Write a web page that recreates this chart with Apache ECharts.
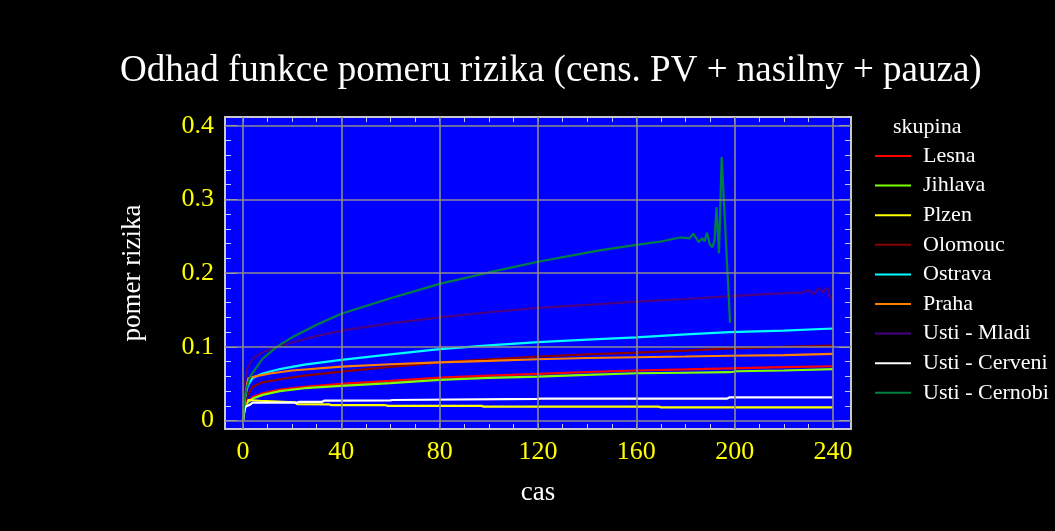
<!DOCTYPE html>
<html>
<head>
<meta charset="utf-8">
<script src="https://cdn.jsdelivr.net/npm/echarts@6/dist/echarts.min.js"></script>
<style>html,body{margin:0;padding:0;background:#000;}#c{width:1055px;height:531px;}</style>
</head>
<body>
<div id="c"></div>
<script>
// ---- data ----
const seriesNames = ['Lesna','Jihlava','Plzen','Olomouc','Ostrava','Praha','Usti - Mladi','Usti - Cerveni','Usti - Cernobi'];
const seriesColors = ['#ff0000','#80ff00','#ffff00','#8b0000','#00ffff','#ff8000','#4b0082','#ffffff','#008040'];

const lesnaT = [0,0.5,1,2,4,8,15,25,40,60,80,100,120,140,160,180,198,220,240];
const lesnaV = [0,0.012,0.02,0.026,0.032,0.037,0.042,0.046,0.0498,0.054,0.0584,0.061,0.0634,0.066,0.068,0.0695,0.071,0.0725,0.0738];

const jihlavaT = [0,0.5,1,2,4,8,15,25,40,60,80,100,120,140,160,180,198,201,220,240];
const jihlavaV = [0,0.011,0.019,0.025,0.030,0.035,0.040,0.044,0.0471,0.051,0.0552,0.058,0.0597,0.062,0.0643,0.065,0.0657,0.067,0.068,0.0700];

const plzenT = [0,0.5,1,2,7,7.5,21,22,35,36,58,59,97,98,169,170,240];
const plzenV = [0,0.015,0.024,0.028,0.027,0.025,0.025,0.0225,0.0222,0.021,0.021,0.020,0.020,0.019,0.019,0.018,0.018];

const olomoucT = [0,0.5,1,2,4,8,17.6,25,40,60,80,100,120,140,160,180,198,220,240];
const olomoucV = [0,0.015,0.025,0.035,0.046,0.052,0.0575,0.061,0.0665,0.073,0.079,0.083,0.087,0.090,0.0923,0.095,0.098,0.100,0.1018];

const ostravaT = [0,0.5,1,2,4,8,15,25,40,60,80,100,120,140,160,180,198,220,240];
const ostravaV = [0,0.02,0.035,0.048,0.058,0.064,0.070,0.076,0.0824,0.090,0.097,0.102,0.1064,0.110,0.113,0.117,0.120,0.122,0.125];

const prahaT = [0,0.5,1,2.2,5,11,20,40,60,80,100,120,140,160,180,198,220,240];
const prahaV = [0,0.02,0.04,0.0575,0.060,0.064,0.068,0.0733,0.0765,0.079,0.081,0.0833,0.085,0.086,0.087,0.088,0.089,0.0905];

const mladiT = [0,0.3,0.7,1.5,4.2,8.3,13.7,20,30,40,60,80,100,120,140,160,180,198,215,228,230,232.2,234.2,236,237.6,238.7,240];
const mladiV = [0,0.03,0.05,0.069,0.085,0.093,0.100,0.106,0.115,0.122,0.132,0.140,0.147,0.153,0.157,0.1615,0.165,0.169,0.172,0.174,0.177,0.1715,0.180,0.174,0.181,0.168,0.164];

const cerveniT = [0,0.5,1,3,4,22,23,32,33,60,61,120,121,197,198,240];
const cerveniV = [0,0.012,0.019,0.022,0.0245,0.0245,0.0254,0.0254,0.0271,0.0275,0.028,0.0295,0.030,0.030,0.0317,0.0317];

const cernobiT = [0,0.3,0.7,1.5,3,5,8,13.7,20,30,40,60,80,100,120,145,160,170,177.8,180,181.5,183.2,185.4,186.8,187.7,188.7,189.9,191,191.8,192.6,193.6,194.7,198.1];
const cernobiV = [0,0.015,0.03,0.045,0.06,0.07,0.084,0.1,0.113,0.13,0.145,0.166,0.1855,0.201,0.2155,0.231,0.2385,0.243,0.2484,0.248,0.247,0.2534,0.2421,0.2475,0.243,0.2548,0.2385,0.2353,0.245,0.2896,0.227,0.3575,0.133];

const xTicks = [0,40,80,120,160,200,240];
const xMinorTicks = [0,10,20,30,40,50,60,70,80,90,100,110,120,130,140,150,160,170,180,190,200,210,220,230,240];
const yTicks = [0,0.1,0.2,0.3,0.4];
const yMinorTicks = [0,0.02,0.04,0.06,0.08,0.1,0.12,0.14,0.16,0.18,0.2,0.22,0.24,0.26,0.28,0.3,0.32,0.34,0.36,0.38,0.4];

const allT = [lesnaT,jihlavaT,plzenT,olomoucT,ostravaT,prahaT,mladiT,cerveniT,cernobiT];
const allV = [lesnaV,jihlavaV,plzenV,olomoucV,ostravaV,prahaV,mladiV,cerveniV,cernobiV];

// ---- chart ----
const FONT = 'Liberation Serif';
const chart = echarts.init(document.getElementById('c'), null, {renderer:'canvas'});
const tickColor = '#c8c8ff';

function xAxisDef(pos, ticks, len, labels) {
  return {
    type:'value', gridIndex:0, position:pos, min:-7.3, max:247.3,
    axisLine:{show:false, onZero:false},
    axisTick:{show:true, inside:true, length:len, customValues:ticks, lineStyle:{color:tickColor, width:1}},
    axisLabel: labels ? {show:true, customValues:xTicks, color:'#ffff00', fontFamily:FONT, fontSize:26, margin:10, formatter:v=>String(v)} : {show:false},
    splitLine:{show:false},
    name: labels ? 'cas' : '', nameLocation:'middle', nameGap:50,
    nameTextStyle:{color:'#ffffff', fontFamily:FONT, fontSize:27}
  };
}
function yAxisDef(pos, ticks, len, labels) {
  return {
    type:'value', gridIndex:0, position:pos, min:-0.0113, max:0.4118,
    axisLine:{show:false, onZero:false},
    axisTick:{show:true, inside:true, length:len, customValues:ticks, lineStyle:{color:tickColor, width:1}},
    axisLabel: labels ? {show:true, customValues:yTicks, color:'#ffff00', fontFamily:FONT, fontSize:26, margin:11, formatter:v=>String(v)} : {show:false},
    splitLine:{show:false},
    name: labels ? 'pomer rizika' : '', nameLocation:'middle', nameGap:79,
    nameTextStyle:{color:'#ffffff', fontFamily:FONT, fontSize:27}
  };
}

const series = seriesNames.map((n,i)=>({
  name:n, type:'line', xAxisIndex:0, yAxisIndex:0, symbol:'none', showSymbol:false,
  z:3, silent:true,
  lineStyle:{color:seriesColors[i], width:2.2},
  itemStyle:{color:seriesColors[i]},
  data: allT[i].map((t,k)=>[t, allV[i][k]])
}));
series.unshift({
  name:'_grid', type:'line', data:[], z:1, silent:true, xAxisIndex:0, yAxisIndex:0,
  markLine:{
    silent:true, symbol:'none', animation:false, label:{show:false},
    lineStyle:{color:'#8c8c8c', width:1.6, type:'solid'},
    emphasis:{disabled:true},
    data: xTicks.map(v=>({xAxis:v})).concat(yTicks.map(v=>({yAxis:v})))
  }
});

chart.setOption({
  animation:false,
  backgroundColor:'#000000',
  title:[
    {text:'Odhad funkce pomeru rizika (cens. PV + nasilny + pauza)', left:115, top:48,
     textStyle:{color:'#ffffff', fontFamily:FONT, fontSize:37, fontWeight:'normal'}},
    {text:'skupina', left:888, top:111,
     textStyle:{color:'#ffffff', fontFamily:FONT, fontSize:22, fontWeight:'normal'}}
  ],
  legend:{
    data:seriesNames, orient:'vertical', left:875, top:145, padding:0,
    icon:'rect', itemWidth:36, itemHeight:2, itemGap:7.6, selectedMode:false,
    textStyle:{color:'#ffffff', fontFamily:FONT, fontSize:22, lineHeight:22, padding:[0,0,0,7]}
  },
  grid:{left:225, top:117, width:626, height:312, show:true, backgroundColor:'#0000ff', borderColor:'#c8c8c8', borderWidth:2, containLabel:false},
  xAxis:[ xAxisDef('bottom', xMinorTicks, 5, true), xAxisDef('top', xMinorTicks, 5, false) ],
  yAxis:[ yAxisDef('left', yMinorTicks, 6, true), yAxisDef('left', yTicks, 12, false), yAxisDef('right', yMinorTicks, 6, false), yAxisDef('right', yTicks, 12, false) ],
  series:series
});
</script>
</body>
</html>
